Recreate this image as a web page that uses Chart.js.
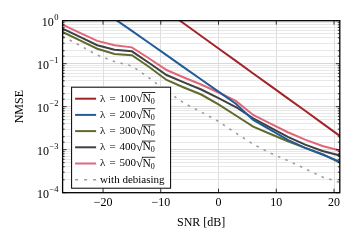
<!DOCTYPE html>
<html>
<head>
<meta charset="utf-8">
<script src="https://cdn.jsdelivr.net/npm/chart.js@4.4.1/dist/chart.umd.min.js"></script>
<style>
  html, body { margin: 0; padding: 0; background: #fff; }
</style>
</head>
<body>
<canvas id="nmseChart" width="356" height="242"></canvas>
<script>
// SNR grid in dB
const snr = [-27, -24, -21, -18, -15, -12, -9, -6, -3, 0, 3, 6, 9, 12, 15, 18, 21];

// NMSE per lambda (null = off the top of the plot)
const lam100 = [null, null, null, null, null, null, 1.67, 0.861, 0.441, 0.225, 0.116, 0.0592, 0.0305, 0.0156, 0.00804, 0.00409, 0.00210];
const lam200 = [null, null, null, 1.1, 0.579, 0.303, 0.158, 0.0824, 0.0429, 0.0224, 0.0117, 0.00491, 0.00290, 0.00170, 0.00110, 0.000773, 0.000526];
const lam300 = [0.546, 0.350, 0.223, 0.168, 0.157, 0.0838, 0.0418, 0.0280, 0.0192, 0.0113, 0.00624, 0.00343, 0.00232, 0.00157, 0.00110, 0.000786, 0.000499];
const lam400 = [0.652, 0.420, 0.269, 0.212, 0.194, 0.104, 0.0546, 0.0369, 0.0251, 0.0158, 0.00984, 0.00537, 0.00325, 0.00199, 0.00131, 0.000933, 0.000733];
const lam500 = [0.807, 0.520, 0.339, 0.268, 0.240, 0.132, 0.0713, 0.0478, 0.0328, 0.0214, 0.0136, 0.00641, 0.00405, 0.00255, 0.00171, 0.00122, 0.000957];
const debiased = [0.434, 0.265, 0.159, 0.112, 0.0884, 0.0465, 0.0232, 0.0122, 0.00753, 0.00453, 0.00244, 0.00134, 0.000830, 0.000558, 0.000361, 0.000232, 0.000173];

const seriesLabels = ['λ = 100√N₀', 'λ = 200√N₀', 'λ = 300√N₀', 'λ = 400√N₀', 'λ = 500√N₀', 'with debiasing'];
const xTicks = [-20, -10, 0, 10, 20];

const FONT = "'Liberation Serif', 'DejaVu Serif', serif";

function isDecade(v) {
    const e = Math.log10(v);
    return Math.abs(e - Math.round(e)) < 1e-9;
}

function pts(vals) {
    return snr.map((s, i) => ({ x: s, y: vals[i] }));
}

function line(label, vals, color, dash) {
    return {
        label: label,
        data: pts(vals),
        borderColor: color,
        backgroundColor: color,
        borderWidth: dash ? 1.6 : 2,
        borderDash: dash || [],
        pointRadius: 0,
        tension: 0,
        spanGaps: false
    };
}

// legend box drawn inside the plot, lower left
const boxLegend = {
    id: 'boxLegend',
    afterDatasetsDraw(chart) {
        const ctx = chart.ctx;
        const area = chart.chartArea;
        const w = 99, h = 101;
        const bx = area.left + 8.5;
        const by = area.bottom - 5 - h;
        ctx.save();
        ctx.fillStyle = '#fff';
        ctx.fillRect(bx, by, w, h);
        ctx.strokeStyle = '#000';
        ctx.lineWidth = 1;
        ctx.strokeRect(bx + 0.5, by + 0.5, w, h);
        ctx.textBaseline = 'middle';
        chart.data.datasets.forEach((ds, i) => {
            const cy = by + 12 + i * 16.2;
            ctx.beginPath();
            ctx.strokeStyle = ds.borderColor;
            ctx.lineWidth = ds.borderWidth;
            ctx.setLineDash(ds.borderDash.length ? [3, 6] : []);
            ctx.moveTo(bx + 4, cy);
            ctx.lineTo(bx + 25, cy);
            ctx.stroke();
            ctx.setLineDash([]);
            let tx = bx + 29;
            const parts = ds.label.split('√');
            ctx.fillStyle = '#000';
            ctx.font = '11px ' + FONT;
            if (parts.length > 1) {
                // λ = 100 with slightly wider spacing around "="
                const lhs = parts[0].split('=');
                ctx.fillText(lhs[0], tx, cy);
                tx += ctx.measureText(lhs[0]).width + 1.2;
                ctx.fillText('=', tx, cy);
                tx += ctx.measureText('=').width + 1.2;
                ctx.fillText(lhs[1], tx, cy);
                tx += ctx.measureText(lhs[1]).width;
                ctx.font = '12.5px ' + FONT;
                ctx.fillText('√', tx, cy + 0.5);
                tx += ctx.measureText('√').width - 0.5;
                ctx.font = '11.5px ' + FONT;
                ctx.fillText('N', tx, cy);
                const nw = ctx.measureText('N').width;
                ctx.font = '8px ' + FONT;
                ctx.fillText('0', tx + nw, cy + 3);
                const rw = nw + ctx.measureText('0').width + 0.5;
                ctx.beginPath();
                ctx.strokeStyle = '#000';
                ctx.lineWidth = 0.8;
                ctx.moveTo(tx - 0.5, cy - 6.2);
                ctx.lineTo(tx + rw, cy - 6.2);
                ctx.stroke();
            } else {
                ctx.fillText(ds.label, tx, cy);
            }
        });
        ctx.restore();
    }
};

// full frame, inward tick marks, and y decade labels with raised exponents
const frame = {
    id: 'frame',
    afterDraw(chart) {
        const ctx = chart.ctx;
        const a = chart.chartArea;
        const ys = chart.scales.y;
        const xs = chart.scales.x;
        ctx.save();
        ctx.strokeStyle = '#000';
        ctx.lineWidth = 0.8;
        ys.ticks.forEach(t => {
            const py = ys.getPixelForValue(t.value);
            const len = isDecade(t.value) ? 4 : 2;
            ctx.beginPath();
            ctx.moveTo(a.left, py); ctx.lineTo(a.left + len, py);
            ctx.moveTo(a.right, py); ctx.lineTo(a.right - len, py);
            ctx.stroke();
        });
        xTicks.forEach(v => {
            const px = xs.getPixelForValue(v);
            ctx.beginPath();
            ctx.moveTo(px, a.bottom); ctx.lineTo(px, a.bottom - 4);
            ctx.moveTo(px, a.top); ctx.lineTo(px, a.top + 4);
            ctx.stroke();
        });
        ctx.lineWidth = 1.3;
        ctx.strokeRect(a.left, a.top, a.right - a.left, a.bottom - a.top);

        ctx.fillStyle = '#000';
        ctx.textBaseline = 'alphabetic';
        ys.ticks.filter(t => isDecade(t.value)).forEach(t => {
            const py = ys.getPixelForValue(t.value);
            const exp = String(Math.round(Math.log10(t.value))).replace('-', '−');
            ctx.font = '8.5px ' + FONT;
            const ew = ctx.measureText(exp).width;
            ctx.textAlign = 'left';
            const right = a.left - 4;
            ctx.fillText(exp, right - ew, py - 1);
            ctx.font = '12px ' + FONT;
            ctx.textAlign = 'right';
            ctx.fillText('10', right - ew - 0.5, py + 5);
        });
        ctx.restore();
    }
};

new Chart(document.getElementById('nmseChart'), {
    type: 'line',
    data: {
        datasets: [
            line(seriesLabels[0], lam100, '#a3232b'),
            line(seriesLabels[1], lam200, '#225c98'),
            line(seriesLabels[2], lam300, '#5d6c2d'),
            line(seriesLabels[3], lam400, '#404040'),
            line(seriesLabels[4], lam500, '#e0667a'),
            line(seriesLabels[5], debiased, '#9c9c9c', [2.5, 5.5])
        ]
    },
    options: {
        responsive: false,
        animation: false,
        devicePixelRatio: 1,
        layout: { padding: { left: 0, right: 16.2, top: 20.7, bottom: 0 } },
        plugins: { legend: { display: false }, tooltip: { enabled: false } },
        scales: {
            x: {
                type: 'linear',
                min: -27,
                max: 21,
                afterBuildTicks: scale => { scale.ticks = xTicks.map(v => ({ value: v })); },
                afterFit: scale => { scale.height = 49.3; },
                grid: { color: '#d6d6d6', lineWidth: 0.8, drawTicks: false },
                border: { display: false },
                ticks: {
                    color: '#000',
                    font: { family: FONT, size: 12 },
                    padding: 3,
                    maxRotation: 0,
                    callback: v => String(v).replace('-', '−')
                },
                title: {
                    display: true,
                    text: 'SNR [dB]',
                    color: '#000',
                    font: { family: FONT, size: 12 },
                    padding: { top: 0, bottom: 12 }
                }
            },
            y: {
                type: 'logarithmic',
                min: 1e-4,
                max: 1,
                afterFit: scale => { scale.width = 62.6; },
                grid: {
                    drawTicks: false,
                    lineWidth: 0.8,
                    color: ctx => (ctx.tick && isDecade(ctx.tick.value)) ? '#cfcfcf' : '#e2e2e2'
                },
                border: { display: false },
                ticks: {
                    autoSkip: false,
                    color: 'rgba(0,0,0,0)',
                    font: { family: FONT, size: 12 },
                    padding: 5,
                    // decade labels kept for the scale, drawn with raised exponents in the frame plugin
                    callback: v => isDecade(v) ? '10^' + Math.round(Math.log10(v)) : ''
                },
                title: {
                    display: true,
                    text: 'NMSE',
                    color: '#000',
                    font: { family: FONT, size: 12 },
                    padding: { top: 13, bottom: 0 }
                }
            }
        }
    },
    plugins: [boxLegend, frame]
});
</script>
</body>
</html>
